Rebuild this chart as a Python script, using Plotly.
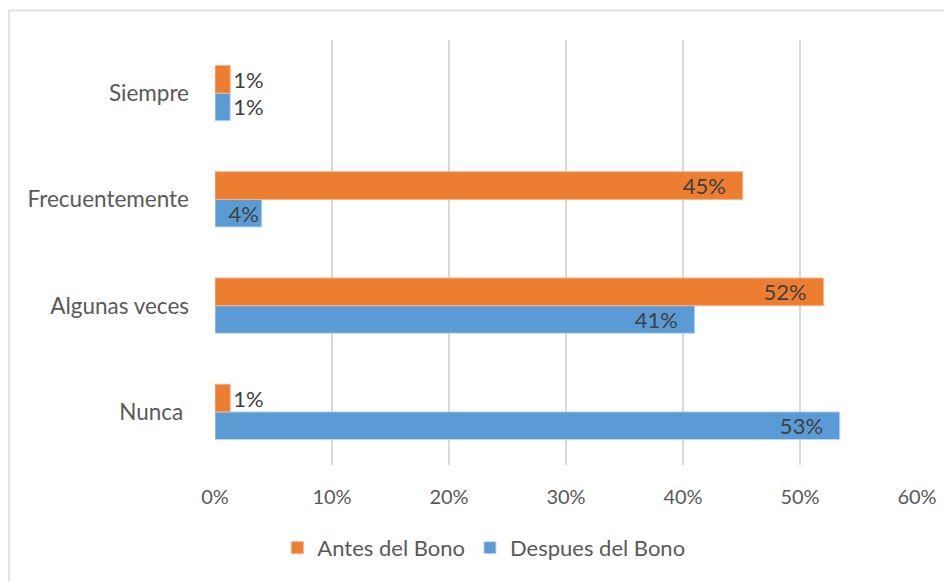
import plotly.graph_objects as go

categories = ["Nunca ", "Algunas veces", "Frecuentemente", "Siempre"]
antes = [0.013, 0.520, 0.451, 0.013]
despues = [0.534, 0.410, 0.040, 0.013]
x_ticks = [0, 0.1, 0.2, 0.3, 0.4, 0.5, 0.6]
x_labels = ["0%", "10%", "20%", "30%", "40%", "50%", "60%"]

ORANGE = "#ED7D31"
BLUE = "#5B9BD5"
FONT = "Lato"

def positions(vals):
    return ["outside" if v < 0.03 else "inside" for v in vals]

def templates(vals):
    out = []
    for v in vals:
        if v < 0.03:
            out.append("%{x:.0%}")
        elif v < 0.1:
            out.append("%{x:.0%}")
        else:
            out.append("%{x:.0%}\u2002\u2009")
    return out

fig = go.Figure()
fig.add_trace(go.Bar(
    y=categories, x=despues, orientation="h", name="Despues del Bono",
    marker=dict(color=BLUE, line=dict(color="#BDD7EE", width=1)),
    texttemplate=templates(despues), textposition=positions(despues),
    insidetextanchor="end", cliponaxis=False,
    textfont=dict(family=FONT, size=22, color="#404040"),
    legendrank=2,
))
fig.add_trace(go.Bar(
    y=categories, x=antes, orientation="h", name="Antes del Bono",
    marker=dict(color=ORANGE, line=dict(color="#F4B183", width=1)),
    texttemplate=templates(antes), textposition=positions(antes),
    insidetextanchor="end", cliponaxis=False,
    textfont=dict(family=FONT, size=22, color="#404040"),
    legendrank=1,
))

fig.update_layout(
    width=944, height=573,
    margin=dict(l=207, r=35, t=32, b=116),
    paper_bgcolor="white", plot_bgcolor="white",
    barmode="group", bargap=0.48, bargroupgap=0,
    uniformtext=dict(minsize=20, mode="show"),
    font=dict(family=FONT, size=22, color="#595959"),
    showlegend=True,
    legend=dict(orientation="h", x=0.383, xanchor="center", y=-0.195, yanchor="middle",
                font=dict(family=FONT, size=22, color="#595959"),
                itemwidth=30, tracegroupgap=0),
    xaxis=dict(range=[0, 0.6], tickvals=x_ticks, ticktext=x_labels,
               showgrid=True, gridcolor="#D9D9D9", gridwidth=1.5,
               zeroline=False, showline=False, ticks="", ticklabelstandoff=18,
               tickfont=dict(family=FONT, size=20, color="#595959")),
    yaxis=dict(showgrid=False, zeroline=False, showline=False, ticks="",
               ticklabelstandoff=25,
               tickfont=dict(family=FONT, size=22.5, color="#595959")),
    shapes=[dict(type="rect", xref="paper", yref="paper",
                 x0=-206 / 702, x1=(960 - 215) / 702,
                 y0=(465 - 590) / 425, y1=(465 - 10.5) / 425,
                 line=dict(color="#D9D9D9", width=1.5), fillcolor="rgba(0,0,0,0)",
                 layer="below")],
)

fig.write_html("out.html")
